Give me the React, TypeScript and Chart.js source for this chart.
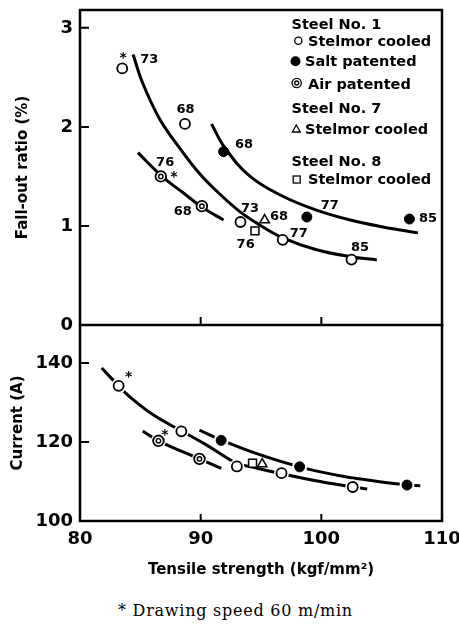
import React, { useEffect, useRef } from 'react';
import { Chart, registerables } from 'chart.js';

Chart.register(...registerables);

// ---------------- DATA ----------------
// Upper panel: Fall-out ratio (%) vs tensile strength (kgf/mm2)
const STELMOR1_TS_TOP = [83.5, 88.7, 93.3, 96.8, 102.5];
const STELMOR1_FALLOUT = [2.59, 2.03, 1.04, 0.86, 0.66];
const STELMOR1_TOP_LABELS = ['73', '68', '73', '77', '85'];
const STELMOR1_TOP_STAR = [true, false, false, false, false];

const SALT_TS_TOP = [91.9, 98.8, 107.3];
const SALT_FALLOUT = [1.75, 1.09, 1.07];
const SALT_TOP_LABELS = ['68', '77', '85'];

const AIR_TS_TOP = [86.7, 90.1];
const AIR_FALLOUT = [1.5, 1.2];
const AIR_TOP_LABELS = ['76', '68'];
const AIR_TOP_STAR = [true, false];

const STEEL7_TS_TOP = [95.3];
const STEEL7_FALLOUT = [1.06];
const STEEL7_TOP_LABELS = ['68'];

const STEEL8_TS_TOP = [94.5];
const STEEL8_FALLOUT = [0.95];
const STEEL8_TOP_LABELS = ['76'];

// fitted curves, upper panel
const CURVE_STELMOR_TOP_X = [84.4, 85.2, 86.6, 88.3, 89.9, 91.6, 93.3, 94.9, 96.8, 99.6, 102.4, 104.6];
const CURVE_STELMOR_TOP_Y = [2.73, 2.44, 2.08, 1.78, 1.53, 1.32, 1.14, 1.01, 0.88, 0.76, 0.69, 0.657];
const CURVE_SALT_TOP_X = [90.9, 92.0, 94.1, 96.8, 99.6, 102.4, 105.1, 108.0];
const CURVE_SALT_TOP_Y = [2.03, 1.79, 1.5, 1.3, 1.16, 1.06, 0.99, 0.93];
const CURVE_AIR_TOP_X = [84.8, 86.8, 88.6, 90.1, 91.9];
const CURVE_AIR_TOP_Y = [1.74, 1.5, 1.33, 1.19, 1.06];

// Lower panel: Current (A) vs tensile strength
const STELMOR1_TS_BOT = [83.2, 88.4, 93.0, 96.7, 102.6];
const STELMOR1_CURRENT = [134.2, 122.7, 113.8, 112.1, 108.6];
const STELMOR1_BOT_STAR = [true, false, false, false, false];

const SALT_TS_BOT = [91.7, 98.2, 107.1];
const SALT_CURRENT = [120.4, 113.7, 109.1];

const AIR_TS_BOT = [86.5, 89.9];
const AIR_CURRENT = [120.3, 115.7];
const AIR_BOT_STAR = [true, false];

const STEEL7_TS_BOT = [95.1];
const STEEL7_CURRENT = [114.4];
const STEEL8_TS_BOT = [94.3];
const STEEL8_CURRENT = [114.6];

const CURVE_STELMOR_BOT_X = [81.8, 83.2, 84.1, 86.1, 88.4, 90.5, 92.0, 93.0, 94.5, 96.7, 99.9, 102.6, 103.8];
const CURVE_STELMOR_BOT_Y = [138.7, 134.2, 131.5, 126.8, 122.8, 119.2, 116.3, 114.6, 113.5, 112.0, 110.0, 108.6, 108.1];
const CURVE_SALT_BOT_X = [89.9, 91.7, 94.4, 98.2, 101.3, 104.0, 107.1, 108.2];
const CURVE_SALT_BOT_Y = [123.0, 120.5, 117.3, 113.7, 111.6, 110.3, 109.1, 108.9];
const CURVE_AIR_BOT_X = [85.2, 86.5, 89.9, 91.7];
const CURVE_AIR_BOT_Y = [122.8, 120.3, 115.7, 113.3];

// axes
const X_TICKS = [80, 90, 100, 110];
const TOP_TICKS = [0, 1, 2, 3];
const BOT_TICKS = [100, 120, 140];
const X_TITLE = 'Tensile strength (kgf/mm²)';
const TOP_TITLE = 'Fall-out ratio (%)';
const BOT_TITLE = 'Current (A)';

// legend
const LEGEND_GROUPS = ['Steel No. 1', 'Steel No. 7', 'Steel No. 8'];
const LEGEND_ITEMS = ['Stelmor cooled', 'Salt patented', 'Air patented', 'Stelmor cooled', 'Stelmor cooled'];
const FOOTNOTE = '* Drawing speed 60 m/min';
const STAR = '*';

// ---------------- STYLE ----------------
const SANS = '"DejaVu Sans", sans-serif';
const SERIF = '"DejaVu Serif", serif';

const pts = (xs: number[], ys: number[]) => xs.map((x, i) => ({ x, y: ys[i] }));

function curve(xs: number[], ys: number[], axis: string) {
  return {
    data: pts(xs, ys),
    yAxisID: axis,
    showLine: true,
    borderColor: '#000',
    borderWidth: 3,
    pointRadius: 0,
    tension: 0.4,
    fill: false,
    order: 10,
  };
}

function marker(xs: number[], ys: number[], axis: string, style: any, extra: any = {}) {
  return {
    data: pts(xs, ys),
    yAxisID: axis,
    showLine: false,
    pointStyle: style.shape,
    pointRadius: style.r,
    pointBackgroundColor: style.fill,
    pointBorderColor: '#000',
    pointBorderWidth: style.bw,
    order: style.order ?? 0,
    ...extra,
  };
}

const OPEN = { shape: 'circle', r: 5, fill: '#fff', bw: 1.8 };
const FILLED = { shape: 'circle', r: 5, fill: '#000', bw: 1 };
const AIR_OUT = { shape: 'circle', r: 5.3, fill: '#fff', bw: 1.8, order: 1 };
const AIR_IN = { shape: 'circle', r: 2.2, fill: '#fff', bw: 1.4 };
const TRI = { shape: 'triangle', r: 5.5, fill: '#fff', bw: 1.5 };
const SQR = { shape: 'rect', r: 5.6, fill: '#fff', bw: 1.5 };
const HALO = { shape: 'circle', r: 7.5, fill: '#fff', bw: 0, order: 5 };

const framePlugin = {
  id: 'frame',
  afterDatasetsDraw(chart: any) {
    const { ctx, chartArea } = chart;
    const yT = chart.scales.yTop;
    const yB = chart.scales.yBot;
    const xs = chart.scales.x;
    const sep = yT.bottom;
    ctx.save();
    ctx.strokeStyle = '#000';
    ctx.lineWidth = 2.5;
    ctx.lineCap = 'square';
    ctx.strokeRect(chartArea.left, chartArea.top, chartArea.right - chartArea.left, chartArea.bottom - chartArea.top);
    ctx.beginPath();
    ctx.moveTo(chartArea.left, sep);
    ctx.lineTo(chartArea.right, sep);
    ctx.stroke();
    ctx.lineWidth = 2;
    ctx.lineCap = 'butt';
    ctx.beginPath();
    TOP_TICKS.forEach((v) => {
      if (v === yT.min) return;
      const p = yT.getPixelForValue(v);
      ctx.moveTo(chartArea.left, p);
      ctx.lineTo(chartArea.left + 9, p);
    });
    BOT_TICKS.forEach((v) => {
      if (v === yB.min) return;
      const p = yB.getPixelForValue(v);
      ctx.moveTo(chartArea.left, p);
      ctx.lineTo(chartArea.left + 9, p);
    });
    X_TICKS.forEach((v) => {
      if (v === xs.min || v === xs.max) return;
      const p = xs.getPixelForValue(v);
      ctx.moveTo(p, sep);
      ctx.lineTo(p, sep - 8);
      ctx.moveTo(p, chartArea.bottom);
      ctx.lineTo(p, chartArea.bottom - 7);
    });
    ctx.stroke();
    ctx.restore();
  },
};

const labelPlugin = {
  id: 'ptlabels',
  afterDatasetsDraw(chart: any) {
    const { ctx } = chart;
    ctx.save();
    ctx.fillStyle = '#000';
    ctx.textAlign = 'center';
    ctx.textBaseline = 'middle';
    chart.data.datasets.forEach((ds: any, di: number) => {
      const meta = chart.getDatasetMeta(di);
      if (ds.ptLabels) {
        ctx.font = `bold 13px ${SANS}`;
        ds.ptLabels.forEach((t: string, i: number) => {
          const el = meta.data[i];
          const [dx, dy] = ds.ptLabelOffsets[i];
          ctx.fillText(t, el.x + dx, el.y + dy);
        });
      }
      if (ds.stars) {
        ctx.font = `bold 14px ${SANS}`;
        ds.stars.forEach((s: boolean, i: number) => {
          if (!s) return;
          const el = meta.data[i];
          const [dx, dy] = ds.starOffsets[i];
          ctx.fillText(STAR, el.x + dx, el.y + dy + 3);
        });
      }
    });
    ctx.restore();
  },
};

const legendPlugin = {
  id: 'customLegend',
  afterDraw(chart: any) {
    const { ctx } = chart;
    ctx.save();
    ctx.fillStyle = '#000';
    ctx.strokeStyle = '#000';
    ctx.textAlign = 'left';
    ctx.textBaseline = 'alphabetic';
    ctx.font = `bold 14.5px ${SANS}`;
    const gx = 291.5;
    ctx.fillText(LEGEND_GROUPS[0], gx, 28.5);
    ctx.fillText(LEGEND_GROUPS[1], gx, 112.5);
    ctx.fillText(LEGEND_GROUPS[2], gx, 165.5);
    ctx.fillText(LEGEND_ITEMS[0], 308, 46);
    ctx.fillText(LEGEND_ITEMS[1], 305, 66);
    ctx.fillText(LEGEND_ITEMS[2], 308, 88.5);
    ctx.fillText(LEGEND_ITEMS[3], 305, 134);
    ctx.fillText(LEGEND_ITEMS[4], 308, 184);
    // symbols
    ctx.lineWidth = 1.3;
    ctx.beginPath();
    ctx.arc(298.3, 40.7, 3.6, 0, Math.PI * 2);
    ctx.stroke();
    ctx.beginPath();
    ctx.arc(295.5, 61.3, 5, 0, Math.PI * 2);
    ctx.fill();
    ctx.beginPath();
    ctx.arc(296.7, 83, 4.6, 0, Math.PI * 2);
    ctx.stroke();
    ctx.beginPath();
    ctx.arc(296.7, 83, 2, 0, Math.PI * 2);
    ctx.stroke();
    ctx.beginPath();
    ctx.moveTo(296.3, 125);
    ctx.lineTo(300.3, 132);
    ctx.lineTo(292.3, 132);
    ctx.closePath();
    ctx.stroke();
    ctx.strokeRect(293.2, 176, 7, 7);
    ctx.restore();
  },
};

export default function App() {
  const ref = useRef<HTMLCanvasElement | null>(null);

  useEffect(() => {
    if (!ref.current) return;
    const tickFont = { family: SANS, size: 18, weight: 'bold' as const };
    const titleFont = { family: SANS, size: 15, weight: 'bold' as const };

    const datasets: any[] = [
      // upper panel curves
      curve(CURVE_STELMOR_TOP_X, CURVE_STELMOR_TOP_Y, 'yTop'),
      curve(CURVE_SALT_TOP_X, CURVE_SALT_TOP_Y, 'yTop'),
      curve(CURVE_AIR_TOP_X, CURVE_AIR_TOP_Y, 'yTop'),
      // lower panel curves
      curve(CURVE_STELMOR_BOT_X, CURVE_STELMOR_BOT_Y, 'yBot'),
      curve(CURVE_SALT_BOT_X, CURVE_SALT_BOT_Y, 'yBot'),
      curve(CURVE_AIR_BOT_X, CURVE_AIR_BOT_Y, 'yBot'),
      // halos in lower panel (curves break at markers)
      marker(STELMOR1_TS_BOT, STELMOR1_CURRENT, 'yBot', HALO),
      marker(SALT_TS_BOT, SALT_CURRENT, 'yBot', HALO),
      marker(AIR_TS_BOT, AIR_CURRENT, 'yBot', HALO),
      // upper panel markers
      marker(STELMOR1_TS_TOP, STELMOR1_FALLOUT, 'yTop', OPEN, {
        ptLabels: STELMOR1_TOP_LABELS,
        ptLabelOffsets: [[27, -9], [0.5, -14], [9.5, -13], [16, -6], [8.5, -12]],
        stars: STELMOR1_TOP_STAR,
        starOffsets: [[1, -13], [0, 0], [0, 0], [0, 0], [0, 0]],
      }),
      marker(SALT_TS_TOP, SALT_FALLOUT, 'yTop', FILLED, {
        ptLabels: SALT_TOP_LABELS,
        ptLabelOffsets: [[20.5, -7], [23, -11], [18.7, 0]],
      }),
      marker(AIR_TS_TOP, AIR_FALLOUT, 'yTop', AIR_OUT, {
        ptLabels: AIR_TOP_LABELS,
        ptLabelOffsets: [[4.3, -13.5], [-19, 5.6]],
        stars: AIR_TOP_STAR,
        starOffsets: [[13, -2], [0, 0]],
      }),
      marker(AIR_TS_TOP, AIR_FALLOUT, 'yTop', AIR_IN),
      marker(STEEL7_TS_TOP, STEEL7_FALLOUT, 'yTop', TRI, {
        ptLabels: STEEL7_TOP_LABELS,
        ptLabelOffsets: [[14.5, -3]],
      }),
      marker(STEEL8_TS_TOP, STEEL8_FALLOUT, 'yTop', SQR, {
        ptLabels: STEEL8_TOP_LABELS,
        ptLabelOffsets: [[-9.3, 14]],
      }),
      // lower panel markers
      marker(STELMOR1_TS_BOT, STELMOR1_CURRENT, 'yBot', OPEN, {
        stars: STELMOR1_BOT_STAR,
        starOffsets: [[10, -11], [0, 0], [0, 0], [0, 0], [0, 0]],
      }),
      marker(SALT_TS_BOT, SALT_CURRENT, 'yBot', FILLED),
      marker(AIR_TS_BOT, AIR_CURRENT, 'yBot', AIR_OUT, {
        stars: AIR_BOT_STAR,
        starOffsets: [[6.6, -8], [0, 0]],
      }),
      marker(AIR_TS_BOT, AIR_CURRENT, 'yBot', AIR_IN),
      marker(STEEL7_TS_BOT, STEEL7_CURRENT, 'yBot', TRI),
      marker(STEEL8_TS_BOT, STEEL8_CURRENT, 'yBot', SQR),
    ];

    const chart = new Chart(ref.current, {
      type: 'scatter',
      data: { datasets },
      options: {
        responsive: false,
        animation: false,
        devicePixelRatio: 1,
        layout: { padding: { top: 10, right: 17, bottom: 0, left: 0 } },
        plugins: {
          legend: { display: false },
          tooltip: { enabled: false },
        },
        scales: {
          x: {
            type: 'linear',
            position: 'bottom',
            min: X_TICKS[0],
            max: X_TICKS[X_TICKS.length - 1],
            afterBuildTicks: (s: any) => {
              s.ticks = X_TICKS.map((v) => ({ value: v }));
            },
            ticks: { font: tickFont, color: '#000', padding: 8, maxRotation: 0 },
            grid: { display: false, drawTicks: false },
            border: { display: false },
            title: { display: true, text: X_TITLE, font: titleFont, color: '#000', padding: { top: 0, bottom: 11 } },
            afterFit: (s: any) => {
              s.height = 69;
              s.paddingLeft = 0;
              s.paddingRight = 0;
            },
          },
          yTop: {
            type: 'linear',
            position: 'left',
            stack: 'panels',
            stackWeight: 315,
            weight: 1,
            min: 0,
            max: 3.18,
            afterBuildTicks: (s: any) => {
              s.ticks = TOP_TICKS.map((v) => ({ value: v }));
            },
            ticks: { font: tickFont, color: '#000', padding: 7 },
            grid: { display: false, drawTicks: false },
            border: { display: false },
            title: { display: true, text: TOP_TITLE, font: titleFont, color: '#000', padding: { top: 14, bottom: 0 } },
            afterFit: (s: any) => {
              s.width = 80;
              s.paddingTop = 0;
              s.paddingBottom = 0;
            },
          },
          yBot: {
            type: 'linear',
            position: 'left',
            stack: 'panels',
            stackWeight: 196,
            weight: 0,
            min: 100,
            max: 149.6,
            afterBuildTicks: (s: any) => {
              s.ticks = BOT_TICKS.map((v) => ({ value: v }));
            },
            ticks: { font: tickFont, color: '#000', padding: 7 },
            grid: { display: false, drawTicks: false },
            border: { display: false },
            title: { display: true, text: BOT_TITLE, font: titleFont, color: '#000', padding: { top: 9, bottom: 0 } },
            afterFit: (s: any) => {
              s.width = 80;
              s.paddingTop = 0;
              s.paddingBottom = 0;
            },
          },
        },
      } as any,
      plugins: [framePlugin, labelPlugin, legendPlugin],
    });
    return () => chart.destroy();
  }, []);

  return (
    <div style={{ position: 'absolute', left: 0, top: 0, width: 459, height: 624, background: '#fff', overflow: 'hidden' }}>
      <canvas ref={ref} width={459} height={590} style={{ display: 'block', width: 459, height: 590 }} />
      <div
        style={{
          position: 'absolute',
          left: 118,
          top: 603,
          fontFamily: SERIF,
          fontSize: 16,
          lineHeight: '16px',
          letterSpacing: '0.75px',
          color: '#000',
          whiteSpace: 'nowrap',
        }}
      >
        {FOOTNOTE}
      </div>
    </div>
  );
}
